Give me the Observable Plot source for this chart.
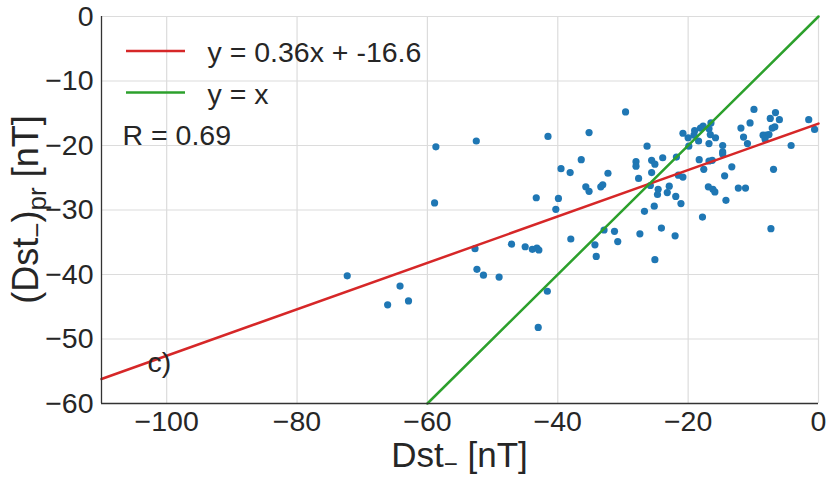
<!DOCTYPE html>
<html>
<head>
<meta charset="utf-8">
<script src="https://cdn.jsdelivr.net/npm/d3@7"></script>
<script src="https://cdn.jsdelivr.net/npm/@observablehq/plot@0.6"></script>
<style>
  html, body { margin: 0; padding: 0; background: #fff; }
  #chart svg { display: block; }
</style>
</head>
<body>
<div id="chart"></div>
<script>
// Observed Dst_ [nT]
const dstObs = [
  -29.6, -35.2, -9.9, -6.6, -7.4, -6.0, -1.5, -0.6, -10.5, -11.9,
  -11.5, -10.9, -6.7, -7.1, -8.5, -8.0, -7.6, -8.2, -4.2, -6.9,
  -7.3, -11.2, -12.3, -13.3, -14.4, -14.2, -14.7, -14.7, -14.7, -15.8,
  -16.5, -16.8, -16.6, -17.7, -18.1, -19.0, -19.1, -20.0, -20.8, -18.4,
  -16.8, -19.9, -18.3, -16.8, -16.3, -17.6, -16.9, -16.2, -15.9, -17.8,
  -26.3, -21.8, -23.9, -25.6, -25.1, -28.0, -28.0, -25.6, -27.6, -21.5,
  -20.8, -36.4, -39.5, -38.1, -32.3, -35.7, -35.2, -33.4, -33.1, -25.8,
  -24.6, -24.7, -22.9, -23.2, -21.9, -21.1, -25.2, -26.7, -24.1, -22.0,
  -27.4, -31.3, -32.9, -30.8, -34.3, -38.0, -34.1, -25.1,
  -58.7, -52.5, -41.5, -58.9, -43.3, -39.9, -40.3, -52.7, -47.1, -45.0,
  -43.9, -43.2, -42.9, -52.4, -51.4, -49.0, -72.3, -64.2, -66.1, -62.9,
  -41.6, -43.0
];
// Predicted (Dst_)pr [nT]
const dstPred = [
  -14.8, -18.0, -14.4, -14.9, -15.8, -16.0, -16.0, -17.5, -16.5, -17.3,
  -18.7, -19.7, -17.1, -17.3, -18.4, -18.4, -18.3, -19.0, -20.0, -23.7,
  -32.9, -26.6, -26.6, -23.3, -24.7, -28.5, -20.0, -21.0, -21.3, -18.8,
  -16.5, -17.4, -18.3, -17.0, -17.3, -17.7, -18.4, -18.8, -18.1, -19.3,
  -19.7, -20.1, -22.2, -22.4, -22.3, -23.7, -26.4, -26.8, -27.2, -31.1,
  -20.1, -21.8, -21.9, -22.3, -22.9, -22.5, -23.2, -24.2, -25.1, -24.6,
  -24.9, -22.2, -23.6, -24.2, -24.3, -26.4, -27.1, -26.4, -26.1, -26.2,
  -26.8, -27.6, -26.3, -27.3, -27.9, -29.0, -29.4, -30.2, -32.8, -34.0,
  -33.7, -33.3, -33.1, -34.9, -35.4, -34.5, -37.2, -37.7,
  -20.2, -19.3, -18.6, -28.9, -28.1, -28.2, -29.9, -36.0, -35.3, -35.7,
  -36.1, -35.9, -36.2, -39.2, -40.1, -40.4, -40.2, -41.8, -44.7, -44.1,
  -42.6, -48.2
];

const fitSlope = 0.36;
const fitIntercept = -16.6;
const xDomain = [-110, 0];
const yDomain = [-60, 0];
const xTicks = [-100, -80, -60, -40, -20, 0];
const yTicks = [-60, -50, -40, -30, -20, -10, 0];
const fitLabel = "y = 0.36x + -16.6";
const idLabel = "y = x";
const rLabel = "R = 0.69";
const panelLabel = "c)";

const points = dstObs.map((x, i) => ({x, y: dstPred[i]}));
const fitLine = xDomain.map(x => ({x, y: fitSlope * x + fitIntercept}));
const idLine = [{x: -60, y: -60}, {x: 0, y: 0}];

const W = 831, H = 479;
const ML = 101, MR = 13, MT = 16, MB = 76;
const textColor = "#262626";
const font = "Liberation Sans, Arial, sans-serif";
const minusFmt = d => String(d).replace("-", "\u2212");

const plot = Plot.plot({
  width: W,
  height: H,
  marginLeft: ML,
  marginRight: MR,
  marginTop: MT,
  marginBottom: MB,
  style: {fontFamily: font, fontSize: "28px", color: textColor, background: "#fff", overflow: "visible"},
  x: {domain: xDomain, label: null},
  y: {domain: yDomain, label: null},
  marks: [
    Plot.gridX(xTicks, {stroke: "#dcdcdc", strokeOpacity: 1, strokeWidth: 1.2}),
    Plot.gridY(yTicks, {stroke: "#dcdcdc", strokeOpacity: 1, strokeWidth: 1.2}),
    Plot.axisX(xTicks, {tickSize: 0, tickPadding: 7, tickFormat: minusFmt, fontSize: 28.5, fill: textColor}),
    Plot.axisY(yTicks, {tickSize: 0, tickPadding: 8, tickFormat: minusFmt, fontSize: 28.5, fill: textColor}),
    Plot.dot(points, {x: "x", y: "y", r: 3.6, fill: "#1f77b4", stroke: "none"}),
    Plot.line(fitLine, {x: "x", y: "y", stroke: "#d62728", strokeWidth: 2.5}),
    Plot.line(idLine, {x: "x", y: "y", stroke: "#2ca02c", strokeWidth: 2.5}),
    Plot.ruleX([xDomain[0]], {stroke: "#333", strokeWidth: 1.3}),
    Plot.ruleY([yDomain[0]], {stroke: "#333", strokeWidth: 1.3}),
    Plot.text([fitLabel], {frameAnchor: "top-left", dx: 106, dy: 36, textAnchor: "start", lineAnchor: "middle", fontSize: 28.5, fill: textColor}),
    Plot.text([idLabel], {frameAnchor: "top-left", dx: 106, dy: 78, textAnchor: "start", lineAnchor: "middle", fontSize: 28.5, fill: textColor}),
    Plot.text([rLabel], {frameAnchor: "top-left", dx: 21, dy: 119, textAnchor: "start", lineAnchor: "middle", fontSize: 28.5, fill: textColor}),
    Plot.text([panelLabel], {frameAnchor: "top-left", dx: 46, dy: 346, textAnchor: "start", lineAnchor: "middle", fontSize: 28.5, fill: textColor})
  ]
});

const svg = d3.select(plot);
// legend swatches
[["#d62728", 51], ["#2ca02c", 92.5]].forEach(([c, yy]) => {
  svg.append("line").attr("x1", 126).attr("x2", 185).attr("y1", yy).attr("y2", yy)
    .attr("stroke", c).attr("stroke-width", 2.5);
});

// x axis label: Dst₋ [nT]
const xl = svg.append("text")
  .attr("x", (ML + W - MR) / 2).attr("y", 467)
  .attr("text-anchor", "middle")
  .attr("font-family", font).attr("font-size", 35).attr("fill", textColor);
xl.append("tspan").text("Dst");
xl.append("tspan").attr("font-size", 24).attr("dy", 5).text("\u2212");
xl.append("tspan").attr("dy", -5).text(" [nT]");

// y axis label: (Dst₋)pr [nT]
const yl = svg.append("text")
  .attr("transform", `translate(38,${(MT + H - MB) / 2}) rotate(-90)`)
  .attr("text-anchor", "middle")
  .attr("font-family", font).attr("font-size", 36).attr("fill", textColor);
yl.append("tspan").text("(Dst");
yl.append("tspan").attr("font-size", 26).attr("dy", 8).text("\u2212");
yl.append("tspan").attr("dy", -8).text(")");
yl.append("tspan").attr("font-size", 26).attr("dy", 8).text("pr");
yl.append("tspan").attr("dy", -8).text(" [nT]");

document.getElementById("chart").appendChild(plot);
</script>
</body>
</html>
